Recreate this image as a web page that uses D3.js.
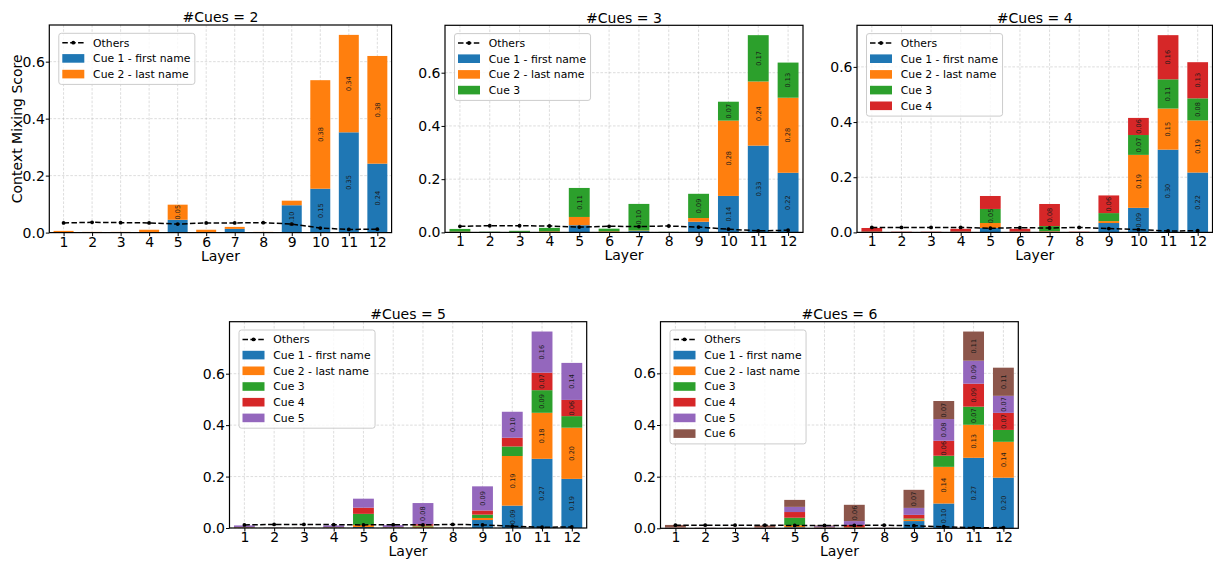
<!DOCTYPE html>
<html>
<head>
<meta charset="utf-8">
<script src="https://cdn.jsdelivr.net/npm/d3@7"></script>
<style>
  body { margin: 0; background: #fff; }
  svg { display: block; font-family: "DejaVu Sans", sans-serif; }
</style>
</head>
<body>
<svg id="chart" width="1213" height="563"></svg>
<script>
// ---- data ----
const layers = [1, 2, 3, 4, 5, 6, 7, 8, 9, 10, 11, 12];
const cueNames = ["Cue 1 - first name", "Cue 2 - last name", "Cue 3", "Cue 4", "Cue 5", "Cue 6"];
const cueCounts = [2, 3, 4, 5, 6];
const yTickValues = [0, 0.2, 0.4, 0.6];

// #Cues = 2 (one array per cue, one value per layer)
const cues2 = [
  [0.001, 0.0005, 0.0005, 0.002, 0.045, 0.002, 0.013, 0.0005, 0.096, 0.154, 0.352, 0.242],
  [0.005, 0.002, 0.002, 0.008, 0.053, 0.008, 0.007, 0.002, 0.016, 0.381, 0.342, 0.378]
];
const others2 = [0.034, 0.036, 0.035, 0.034, 0.030, 0.034, 0.034, 0.035, 0.030, 0.016, 0.011, 0.012];

// #Cues = 3
const cues3 = [
  [0.001, 0.0005, 0.001, 0.001, 0.027, 0.001, 0.005, 0.0005, 0.040, 0.137, 0.326, 0.224],
  [0.002, 0.001, 0.001, 0.003, 0.031, 0.003, 0.002, 0.0005, 0.014, 0.283, 0.241, 0.282],
  [0.010, 0.001, 0.004, 0.013, 0.109, 0.010, 0.100, 0.001, 0.091, 0.071, 0.174, 0.132]
];
const others3 = [0.023, 0.025, 0.025, 0.024, 0.020, 0.023, 0.022, 0.024, 0.020, 0.012, 0.006, 0.008];

// #Cues = 4
const cues4 = [
  [0.001, 0.0005, 0.0005, 0.001, 0.016, 0.001, 0.003, 0.0005, 0.034, 0.089, 0.300, 0.217],
  [0.001, 0.0005, 0.0005, 0.001, 0.018, 0.001, 0.002, 0.0005, 0.007, 0.192, 0.149, 0.189],
  [0.001, 0.0005, 0.0005, 0.001, 0.051, 0.001, 0.018, 0.0005, 0.029, 0.072, 0.106, 0.080],
  [0.013, 0.001, 0.001, 0.010, 0.047, 0.010, 0.080, 0.001, 0.064, 0.062, 0.160, 0.131]
];
const others4 = [0.018, 0.018, 0.018, 0.018, 0.015, 0.017, 0.016, 0.018, 0.014, 0.010, 0.005, 0.006];

// #Cues = 5
const cues5 = [
  [0.001, 0.0003, 0.0003, 0.001, 0.004, 0.001, 0.001, 0.0003, 0.031, 0.087, 0.269, 0.191],
  [0.001, 0.0003, 0.0003, 0.001, 0.008, 0.001, 0.005, 0.0003, 0.008, 0.193, 0.179, 0.199],
  [0.001, 0.0003, 0.0003, 0.001, 0.043, 0.001, 0.003, 0.0003, 0.013, 0.037, 0.088, 0.045],
  [0.001, 0.0003, 0.0003, 0.001, 0.024, 0.001, 0.006, 0.0003, 0.016, 0.034, 0.068, 0.063],
  [0.006, 0.0005, 0.0005, 0.006, 0.035, 0.007, 0.082, 0.0005, 0.094, 0.101, 0.160, 0.144]
];
const others5 = [0.012, 0.014, 0.014, 0.013, 0.012, 0.013, 0.012, 0.014, 0.012, 0.007, 0.003, 0.004];

// #Cues = 6
const cues6 = [
  [0.001, 0.0003, 0.0003, 0.001, 0.004, 0.001, 0.001, 0.0003, 0.028, 0.096, 0.273, 0.196],
  [0.001, 0.0003, 0.0003, 0.001, 0.008, 0.001, 0.002, 0.0003, 0.006, 0.142, 0.128, 0.139],
  [0.001, 0.0003, 0.0003, 0.001, 0.029, 0.001, 0.001, 0.0003, 0.004, 0.043, 0.070, 0.046],
  [0.001, 0.0003, 0.0003, 0.001, 0.022, 0.001, 0.009, 0.0003, 0.014, 0.058, 0.089, 0.066],
  [0.001, 0.0003, 0.0003, 0.001, 0.020, 0.004, 0.015, 0.0003, 0.027, 0.084, 0.089, 0.066],
  [0.008, 0.0005, 0.0005, 0.006, 0.027, 0.003, 0.063, 0.0005, 0.070, 0.070, 0.113, 0.109]
];
const others6 = [0.012, 0.012, 0.012, 0.012, 0.011, 0.011, 0.011, 0.012, 0.010, 0.006, 0.002, 0.003];

const cueSeries = [cues2, cues3, cues4, cues5, cues6];
const othersSeries = [others2, others3, others4, others5, others6];

// ---- layout & style ----
const cueColors = ["#1f77b4", "#ff7f0e", "#2ca02c", "#d62728", "#9467bd", "#8c564b"];
const frames = [
  { left: 49.3, top: 25.0, right: 391.6, bottom: 232.6 },
  { left: 445.0, top: 25.3, right: 803.0, bottom: 232.4 },
  { left: 857.0, top: 25.3, right: 1212.5, bottom: 232.4 },
  { left: 229.5, top: 321.7, right: 586.7, bottom: 528.0 },
  { left: 660.5, top: 321.7, right: 1018.3, bottom: 528.3 }
];
const barWidth = 0.7;
const labelMin = 0.05;

const svg = d3.select("#chart");

cueCounts.forEach((count, pi) => {
  const f = frames[pi];
  const cues = cueSeries[pi];
  const others = othersSeries[pi];
  const w = f.right - f.left, h = f.bottom - f.top;
  const g = svg.append("g").attr("transform", `translate(${f.left},${f.top})`);

  const totals = layers.map((_, i) => d3.sum(cues, c => c[i]));
  const yMax = d3.max(totals.concat(others)) * 1.05;
  const x = d3.scaleLinear().domain([0.5, 12.5]).range([0, w]);
  const y = d3.scaleLinear().domain([0, yMax]).range([h, 0]);

  // grid
  const grid = g.append("g").attr("stroke", "#b0b0b0").attr("stroke-opacity", 0.55)
    .attr("stroke-width", 0.8).attr("stroke-dasharray", "2.6,1.6");
  grid.selectAll("line.v").data(layers).join("line").attr("class", "v")
    .attr("x1", d => x(d)).attr("x2", d => x(d)).attr("y1", 0).attr("y2", h);
  grid.selectAll("line.h").data(yTickValues).join("line").attr("class", "h")
    .attr("x1", 0).attr("x2", w).attr("y1", d => y(d)).attr("y2", d => y(d));

  // stacked bars
  const keys = cues.map((_, k) => "c" + k);
  const rows = layers.map((l, i) => {
    const r = { layer: l };
    cues.forEach((c, k) => { r["c" + k] = c[i]; });
    return r;
  });
  const stacked = d3.stack().keys(keys)(rows);
  const bw = x(1 + barWidth) - x(1);

  stacked.forEach((s, k) => {
    g.append("g").selectAll("rect").data(s).join("rect")
      .attr("x", d => x(d.data.layer) - bw / 2)
      .attr("width", bw)
      .attr("y", d => y(d[1]))
      .attr("height", d => y(d[0]) - y(d[1]))
      .attr("fill", cueColors[k]);
  });

  // others line
  const line = d3.line().x((d, i) => x(layers[i])).y(d => y(d));
  g.append("path").datum(others).attr("d", line)
    .attr("fill", "none").attr("stroke", "#000").attr("stroke-width", 1.5)
    .attr("stroke-dasharray", "5.5,2.4");
  g.append("g").selectAll("circle").data(others).join("circle")
    .attr("cx", (d, i) => x(layers[i])).attr("cy", d => y(d)).attr("r", 1.9).attr("fill", "#000");

  // value labels inside segments
  stacked.forEach((s, k) => {
    g.append("g").selectAll("text").data(s.filter(d => d[1] - d[0] >= labelMin)).join("text")
      .attr("transform", d => `translate(${x(d.data.layer)},${(y(d[0]) + y(d[1])) / 2}) rotate(-90)`)
      .attr("text-anchor", "middle").attr("dy", "0.35em")
      .attr("font-size", 6.6).attr("fill", "#1a1a1a")
      .text(d => (d[1] - d[0]).toFixed(2));
  });

  // axes
  const xAxis = g.append("g").attr("transform", `translate(0,${h})`)
    .call(d3.axisBottom(x).tickValues(layers).tickFormat(d3.format("d")).tickSize(3.5).tickPadding(0.5));
  const yAxis = g.append("g")
    .call(d3.axisLeft(y).tickValues(yTickValues).tickFormat(d3.format(".1f")).tickSize(3.5).tickPadding(1));
  [xAxis, yAxis].forEach(a => {
    a.select(".domain").remove();
    a.selectAll(".tick line").attr("stroke", "#000").attr("stroke-width", 1);
    a.selectAll("text").attr("font-size", 14).attr("font-family", "DejaVu Sans, sans-serif").attr("fill", "#000");
  });

  // frame
  g.append("rect").attr("width", w).attr("height", h)
    .attr("fill", "none").attr("stroke", "#000").attr("stroke-width", 1.2);

  // titles
  g.append("text").attr("x", w / 2).attr("y", -2.7).attr("text-anchor", "middle")
    .attr("font-size", 14).text(`#Cues = ${count}`);
  g.append("text").attr("x", w / 2).attr("y", h + 28).attr("text-anchor", "middle")
    .attr("font-size", 14).text("Layer");
  if (pi === 0) {
    g.append("text").attr("transform", `translate(${21.5 - f.left},${h / 2}) rotate(-90)`)
      .attr("text-anchor", "middle").attr("font-size", 14).text("Context Mixing Score");
  }

  // legend
  const lg = g.append("g").attr("transform", "translate(9.5,8.3)");
  const box = lg.append("rect").attr("rx", 2.5).attr("ry", 2.5)
    .attr("fill", "#fff").attr("fill-opacity", 0.8).attr("stroke", "#cccccc").attr("stroke-width", 1);
  const entries = ["Others"].concat(cueNames.slice(0, count));
  let maxLen = 0;
  entries.forEach((name, i) => {
    const cy = 9.4 + i * 15.7;
    if (i === 0) {
      lg.append("line").attr("x1", 3.5).attr("x2", 25.5).attr("y1", cy).attr("y2", cy)
        .attr("stroke", "#000").attr("stroke-width", 1.5).attr("stroke-dasharray", "5.5,2.4");
      lg.append("circle").attr("cx", 14.5).attr("cy", cy).attr("r", 1.9).attr("fill", "#000");
    } else {
      lg.append("rect").attr("x", 3.5).attr("y", cy - 4.3).attr("width", 22).attr("height", 8.6)
        .attr("fill", cueColors[i - 1]);
    }
    const t = lg.append("text").attr("x", 34.3).attr("y", cy).attr("dy", "0.36em")
      .attr("font-size", 10.8).text(name);
    maxLen = Math.max(maxLen, t.node().getComputedTextLength());
  });
  box.attr("width", 34.3 + maxLen + 4.5).attr("height", 9.4 + (entries.length - 1) * 15.7 + 10.3);
});
</script>
</body>
</html>
